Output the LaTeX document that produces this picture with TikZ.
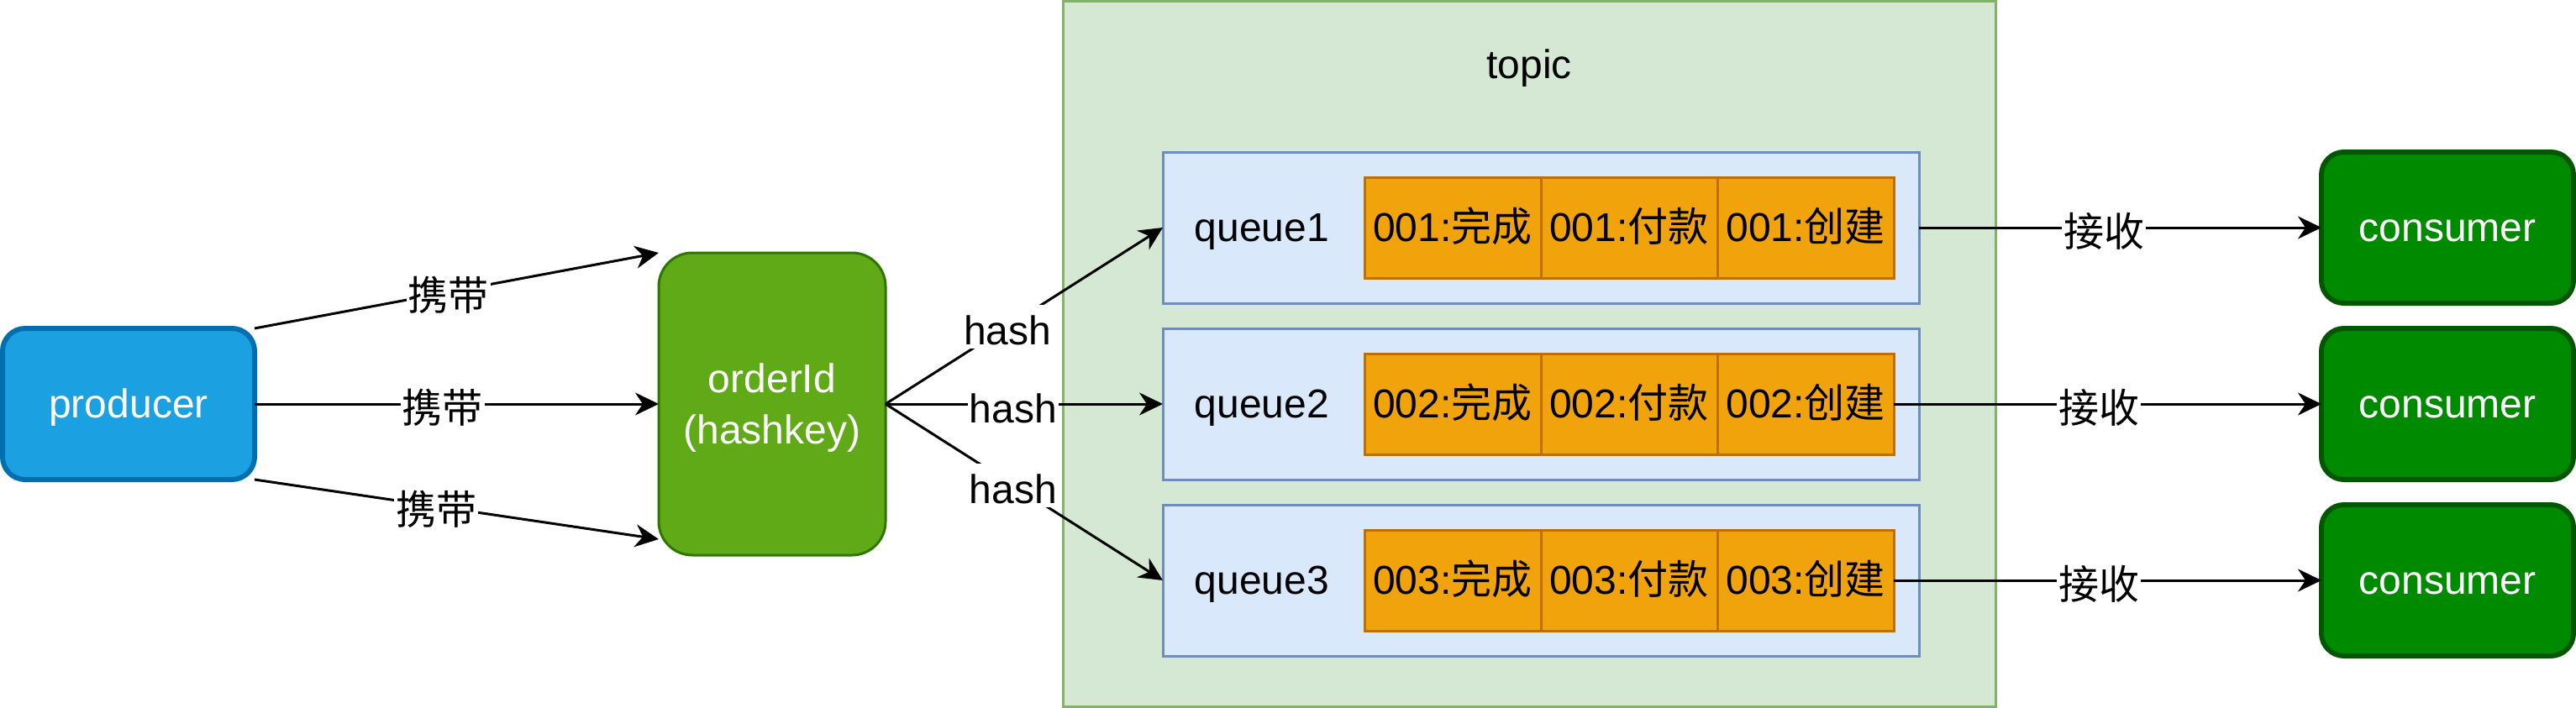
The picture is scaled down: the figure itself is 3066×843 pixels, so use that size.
\documentclass[tikz,border=0pt]{standalone}
\usepackage{fontspec}
\setmainfont{Liberation Sans}
\newfontfamily\cjk{Noto Sans CJK SC}
\usetikzlibrary{arrows.meta,calc}
\definecolor{prodfill}{HTML}{1BA1E2}
\definecolor{prodline}{HTML}{006EAF}
\definecolor{ordfill}{HTML}{60A917}
\definecolor{ordline}{HTML}{2D7600}
\definecolor{consfill}{HTML}{008A00}
\definecolor{consline}{HTML}{005700}
\definecolor{topfill}{HTML}{D5E8D4}
\definecolor{topline}{HTML}{82B366}
\definecolor{qfill}{HTML}{DAE8FC}
\definecolor{qline}{HTML}{6C8EBF}
\definecolor{cellfill}{HTML}{F0A30A}
\definecolor{cellline}{HTML}{BD7000}
\begin{document}
\begin{tikzpicture}[x=1pt,y=-1pt,
  every node/.style={font=\fontsize{48}{58}\selectfont, inner sep=0pt, outer sep=0pt,
    text height=40pt, text depth=8pt},
  actorbox/.style={draw=#1line, fill=#1fill, line width=6pt, rounded corners=27pt,
    minimum width=300pt, minimum height=180pt, text=white},
  orderbox/.style={draw=ordline, fill=ordfill, line width=3pt, rounded corners=40pt,
    minimum width=270pt, minimum height=360pt},
  whitetext/.style={text=white, anchor=base},
  topicbox/.style={draw=topline, fill=topfill, line width=3pt,
    minimum width=1110pt, minimum height=840pt},
  queuebox/.style={draw=qline, fill=qfill, line width=3pt,
    minimum width=900pt, minimum height=180pt},
  cellbox/.style={draw=cellline, fill=cellfill, line width=3pt,
    minimum width=210pt, minimum height=120pt},
  arr/.style={line width=3pt, -{Stealth[length=28pt,width=27pt,inset=9pt]}},
  lbl/.style={fill=white, inner sep=2pt, text height=46pt, text depth=2pt}
]
\useasboundingbox (0,0) rectangle (3066,843);

% topic container
\node[topicbox] (topic) at (1820.5,421.5) {};
\node (topiclbl) at (1820,77) {topic};

% queues
\node[queuebox] (q1) at (1834,271) {};
\node[queuebox] (q2) at (1834,481) {};
\node[queuebox] (q3) at (1834,691) {};
\node (q1t) at (1502,271) {queue1};
\node (q2t) at (1502,481) {queue2};
\node (q3t) at (1502,691) {queue3};

% cells
\node[cellbox] (c11) at (1729,271) {001:{\cjk 完成}};
\node[cellbox] (c12) at (1939,271) {001:{\cjk 付款}};
\node[cellbox] (c13) at (2149,271) {001:{\cjk 创建}};
\node[cellbox] (c21) at (1729,481) {002:{\cjk 完成}};
\node[cellbox] (c22) at (1939,481) {002:{\cjk 付款}};
\node[cellbox] (c23) at (2149,481) {002:{\cjk 创建}};
\node[cellbox] (c31) at (1729,691) {003:{\cjk 完成}};
\node[cellbox] (c32) at (1939,691) {003:{\cjk 付款}};
\node[cellbox] (c33) at (2149,691) {003:{\cjk 创建}};

% producer, orderId, consumers
\node[actorbox=prod] (p) at (153,481) {producer};
\node[orderbox] (o) at (919,481) {};
\node[whitetext] (ot1) at (919,467) {orderId};
\node[whitetext] (ot2) at (919,528) {(hashkey)};
\node[actorbox=cons] (k1) at (2913,271) {consumer};
\node[actorbox=cons] (k2) at (2913,481) {consumer};
\node[actorbox=cons] (k3) at (2913,691) {consumer};

% producer -> orderId
\draw[arr] (p.north east) -- (o.north west) node[lbl,pos=0.48] {\cjk 携带};
\draw[arr] (p.east) -- (o.west) node[lbl,pos=0.465] {\cjk 携带};
\draw[arr] (p.south east) -- ($(o.south west)+(0,-19)$) node[lbl,pos=0.45] {\cjk 携带};

% orderId -> queues
\draw[arr] (o.east) -- (q1.west) node[lbl,pos=0.44] {hash};
\draw[arr] (o.east) -- (q2.west) node[lbl,pos=0.46] {hash};
\draw[arr] (o.east) -- (q3.west) node[lbl,pos=0.46] {hash};

% queues -> consumers
\draw[arr] (q1.east) -- (k1.west) node[lbl,pos=0.46] {\cjk 接收};
\draw[arr] (c23.east) -- (k2.west) node[lbl,pos=0.48] {\cjk 接收};
\draw[arr] (c33.east) -- (k3.west) node[lbl,pos=0.48] {\cjk 接收};
\end{tikzpicture}
\end{document}
